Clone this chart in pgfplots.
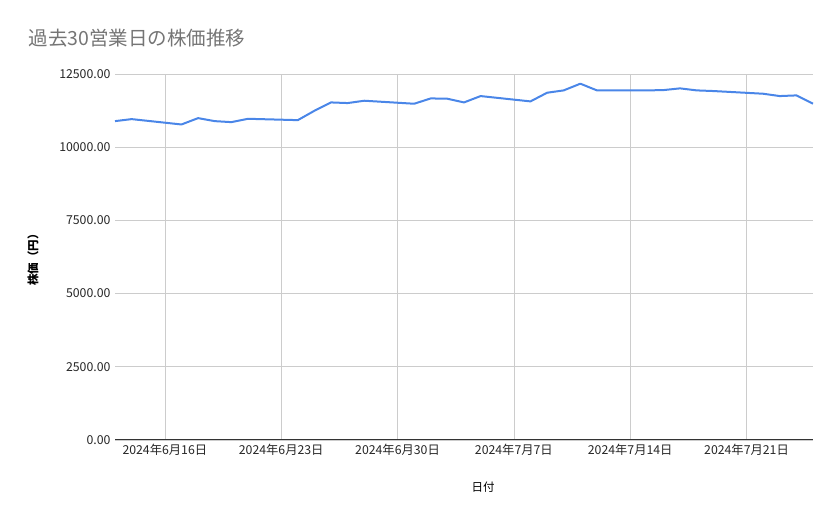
\documentclass[border=0pt]{standalone}
\usepackage{fontspec}
\setmainfont{Noto Sans CJK JP}
\usepackage{pgfplots}
\pgfplotsset{compat=1.18}
\definecolor{linec}{HTML}{4A86E8}
\definecolor{gridc}{HTML}{CCCCCC}
\definecolor{titlec}{HTML}{757575}
\begin{document}
\begin{tikzpicture}[x=1pt,y=1pt]
\path[use as bounding box] (0,0) rectangle (839,519);
\node[anchor=west,text=titlec,font=\fontsize{19.5}{22}\selectfont] at (25,481) {過去30営業日の株価推移};
\begin{axis}[
  at={(115pt,79pt)}, anchor=south west,
  width=698pt, height=366pt, scale only axis,
  xmin=0, xmax=42, ymin=0, ymax=12500,
  xtick={3,10,17,24,31,38},
  xticklabels={2024年6月16日,2024年6月23日,2024年6月30日,2024年7月7日,2024年7月14日,2024年7月21日},
  ytick={0,2500,5000,7500,10000,12500},
  yticklabel={\pgfmathprintnumber[fixed,fixed zerofill,precision=2,1000 sep={}]{\tick}},
  /pgf/number format/assume math mode=true,
  scaled y ticks=false,
  grid=major, major grid style={gridc, line width=0.6pt},
  axis line style={draw=none},
  major tick length=0pt,
  tick label style={font=\fontsize{12.3}{13}\selectfont, text=black!85},
  yticklabel style={xshift=-1pt},
  xticklabel style={yshift=-1pt},
  clip=false,
]
\addplot[linec, line width=2pt, line join=round] coordinates {
(0,10890) (1,10959) (4,10776) (5,10993) (6,10890) (7,10856) (8,10970)
(11,10924) (12,11244) (13,11529) (14,11507) (15,11587)
(18,11484) (19,11666) (20,11655) (21,11529) (22,11746)
(25,11564) (26,11860) (27,11940) (28,12169) (29,11940)
(32,11940) (33,11950) (34,12009) (35,11940) (36,11918)
(39,11826) (40,11746) (41,11769) (42,11484)
};
\draw[black!80, line width=1pt] (axis cs:0,0) -- (axis cs:42,0);
\end{axis}
\node[rotate=90,font=\fontsize{11.5}{12}\selectfont\bfseries] at (33,262) {株価（円）};
\node[font=\fontsize{11.5}{12}\selectfont] at (483,32) {日付};
\end{tikzpicture}
\end{document}
